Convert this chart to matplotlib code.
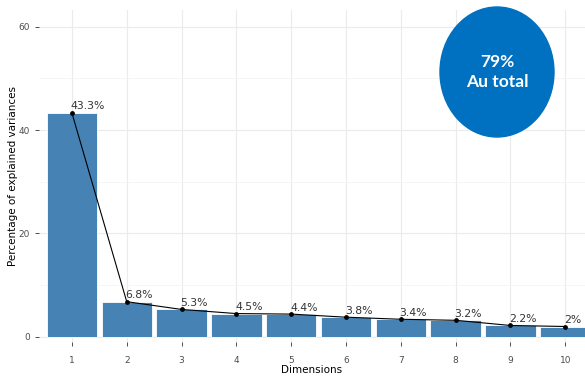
import matplotlib.pyplot as plt
from matplotlib.patches import Ellipse

dims = [1, 2, 3, 4, 5, 6, 7, 8, 9, 10]
variance = [43.3, 6.8, 5.3, 4.5, 4.4, 3.8, 3.4, 3.2, 2.2, 2.0]
labels = ["43.3%", "6.8%", "5.3%", "4.5%", "4.4%", "3.8%", "3.4%", "3.2%", "2.2%", "2%"]
y_ticks = [0, 20, 40, 60]
total_text = "79%\nAu total"

fig = plt.figure(figsize=(5.85, 3.76), dpi=100)
ax = fig.add_axes([0.0667, 0.0904, 0.9333, 0.8841])

ax.bar(dims, variance, width=0.92, color="#4682B4", edgecolor="white", linewidth=0.6, zorder=2)
ax.plot(dims, variance, color="black", linewidth=0.8, zorder=3)
ax.scatter(dims, variance, color="black", s=6, zorder=4)
for d, v, lab in zip(dims, variance, labels):
    ax.text(d - 0.02, v + 0.3, lab, fontsize=7.8, color="#333333", ha="left", va="bottom", zorder=5)

ax.set_xlim(0.4, 10.36)
ax.set_ylim(-1, 63.3)
ax.set_xticks(dims)
ax.set_yticks(y_ticks)
ax.set_yticks([10, 30, 50], minor=True)
ax.grid(True, which="major", color="#ebebeb", linewidth=0.8, zorder=0)
ax.grid(True, which="minor", axis="y", color="#f3f3f3", linewidth=0.5, zorder=0)
ax.set_axisbelow(True)
for s in ax.spines.values():
    s.set_visible(False)
ax.tick_params(axis="both", which="major", colors="#333333", labelcolor="#4d4d4d",
               labelsize=6.5, length=3, width=0.6)
ax.tick_params(axis="x", pad=7)
ax.tick_params(which="minor", length=0)
ax.set_xlabel("Dimensions", fontsize=7.5, labelpad=0)
ax.set_ylabel("Percentage of explained variances", fontsize=7.5)
ax.yaxis.set_label_coords(-0.038, 0.5)

fig.add_artist(Ellipse((497 / 585, 1 - 72 / 376), 114 / 585, 130 / 376,
                       transform=fig.transFigure, color="#0070C0", zorder=10))
fig.text(497 / 585, 1 - 72 / 376, total_text, transform=fig.transFigure, ha="center", va="center",
         color="white", fontsize=12.5, fontweight="bold", family=["Lato", "DejaVu Sans"],
         linespacing=1.3, zorder=11)

fig.savefig("out.png", dpi=100)
